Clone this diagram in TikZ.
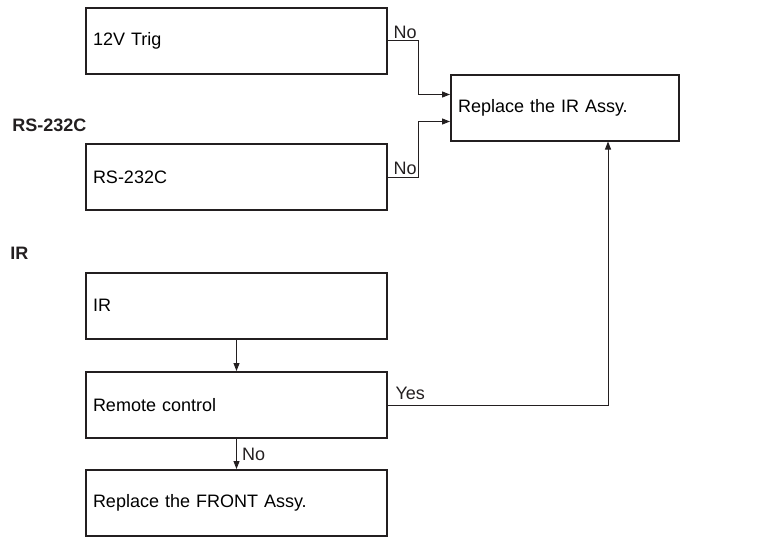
\documentclass[tikz,border=0pt]{standalone}
\usepackage{fontspec}
\setmainfont{Liberation Sans}
\usetikzlibrary{arrows.meta, calc}
\definecolor{ink}{HTML}{231F20}
\tikzset{
  check/.style={draw=ink, line width=1pt, minimum height=33pt, inner xsep=3.5pt, text width=#1, align=left},
  check/.default=143.5pt,
  flow/.style={-{Triangle[length=4pt, width=3pt]}, line width=0.5pt, color=ink},
  answer/.style={inner sep=1pt, text=ink},
  heading/.style={anchor=west, inner sep=0pt, font=\fontsize{9}{11}\selectfont\bfseries, text=ink},
  every node/.append style={font=\fontsize{9}{11}\selectfont}
}
\begin{document}
\begin{tikzpicture}[x=0.5pt, y=-0.5pt]
\useasboundingbox (0,0) rectangle (758,540);
\node[heading] (hrs) at (12,125) {RS-232C};
\node[heading] (hir) at (10,253) {IR};
\node[check] (trig) at (236.5,41) {12V Trig};
\node[check] (rs) at (236.5,177) {RS-232C};
\node[check=107pt] (irassy) at (565,108) {Replace the IR Assy.};
\node[check] (ir) at (236.5,305.5) {IR};
\node[check] (remote) at (236.5,405) {Remote control};
\node[check] (front) at (236.5,503) {Replace the FRONT Assy.};
\coordinate (inA) at ($(irassy.west)+(0,-13.5)$);
\coordinate (inB) at ($(irassy.west)+(0,13.5)$);
\coordinate (inC) at (608,141.5);
\draw[flow] (trig.east) -- node[answer, pos=0, anchor=south west, xshift=1.5pt] {No} (418,41) |- (inA);
\draw[flow] (rs.east) -- node[answer, pos=0, anchor=south west, xshift=1.5pt] {No} (418,177) |- (inB);
\draw[flow] (ir) -- (remote);
\draw[flow] (remote) -- node[answer, right, xshift=1.5pt] {No} (front);
\draw[flow] (remote.east) -- node[answer, pos=0, anchor=south west, xshift=2.5pt, yshift=1.5pt] {Yes} (inC |- remote.east) -- (inC);
\end{tikzpicture}
\end{document}
